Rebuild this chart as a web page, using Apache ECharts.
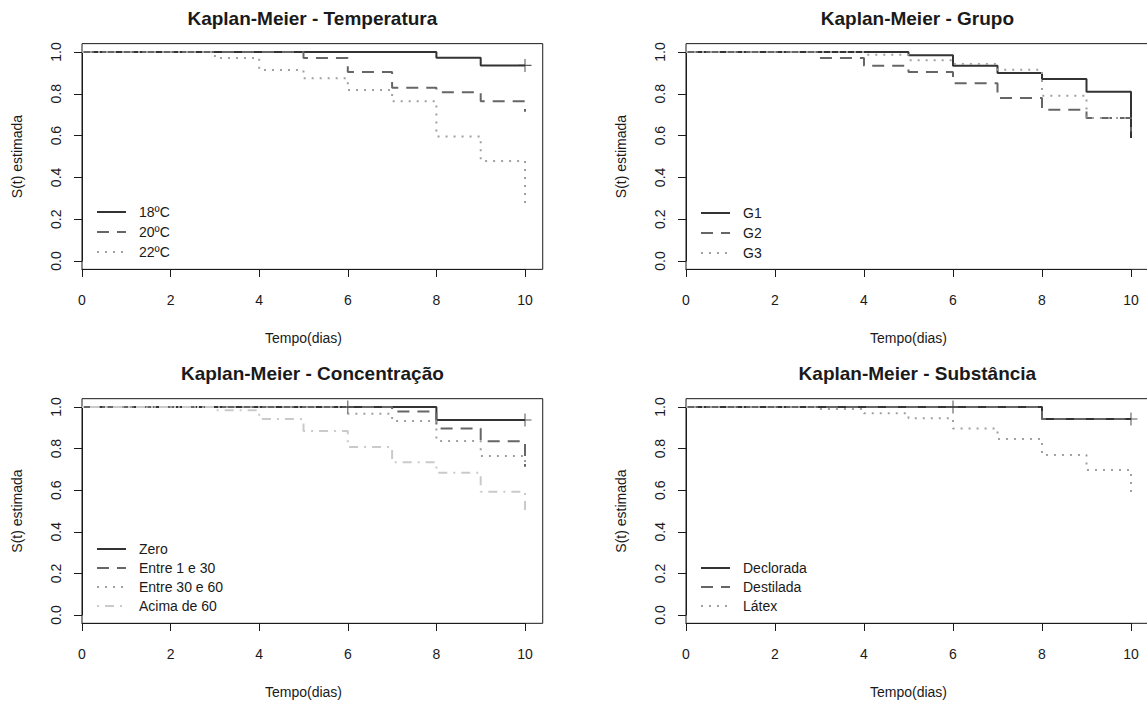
<!DOCTYPE html>
<html>
<head>
<meta charset="utf-8">
<script src="https://cdn.jsdelivr.net/npm/echarts@6/dist/echarts.min.js"></script>
<style>
    html, body { margin: 0; padding: 0; background: #fff; }
    #container_km { width: 1147px; height: 704px; }
</style>
</head>
<body>
<div id="container_km"></div>
<script>
// dias de observação (eixo x)
const days = [0, 1, 2, 3, 4, 5, 6, 7, 8, 9, 10];
const dayTicks = [0, 2, 4, 6, 8, 10];
const survTicks = [0.0, 0.2, 0.4, 0.6, 0.8, 1.0];

// Temperatura
const temp18 = [1, 1, 1, 1, 1, 1, 1, 1, 0.972, 0.936, 0.936];
const temp20 = [1, 1, 1, 1, 1, 0.971, 0.904, 0.829, 0.808, 0.764, 0.714];
const temp22 = [1, 1, 1, 0.971, 0.914, 0.874, 0.818, 0.764, 0.596, 0.479, 0.25];
const censorTemp18 = [[10, 0.936]];

// Grupo
const grupoG1 = [1, 1, 1, 1, 1, 0.984, 0.934, 0.899, 0.871, 0.81, 0.588];
const grupoG2 = [1, 1, 1, 0.971, 0.934, 0.904, 0.85, 0.78, 0.724, 0.684, 0.62];
const grupoG3 = [1, 1, 1, 1, 0.987, 0.96, 0.942, 0.915, 0.791, 0.684, 0.684];

// Concentração
const concZero = [1, 1, 1, 1, 1, 1, 1, 1, 0.9375, 0.9375, 0.9375];
const conc1a30 = [1, 1, 1, 1, 1, 1, 1, 0.978, 0.897, 0.835, 0.713];
const conc30a60 = [1, 1, 1, 1, 1, 1, 0.968, 0.933, 0.837, 0.764, 0.73];
const concAcima60 = [1, 1, 1, 0.984, 0.942, 0.885, 0.808, 0.734, 0.684, 0.593, 0.49];
const censorConcZero = [[6, 1], [10, 0.9375]];

// Substância
const subDeclorada = [1, 1, 1, 1, 1, 1, 1, 1, 0.942, 0.942, 0.942];
const subDestilada = [1, 1, 1, 1, 1, 1, 1, 1, 0.942, 0.942, 0.942];
const subLatex = [1, 1, 1, 0.99, 0.97, 0.946, 0.897, 0.846, 0.769, 0.697, 0.58];
const censorSub = [[6, 1], [10, 0.942]];

const FONT = 'Liberation Sans, Arial, sans-serif';
const INK = '#1a1a1a';
const PLUS = 'path://M5.5,0h1v5.5h5.5v1h-5.5v5.5h-1v-5.5h-5.5v-1h5.5z';

const SOLID = { color: '#333333', type: 'solid' };
const DASHED = { color: '#666666', type: [12, 8] };
const DOTTED = { color: '#a0a0a0', type: [2, 6] };
const DASHDOT = { color: '#cacaca', type: [2, 6, 9, 6] };

const panels = [
    { title: 'Kaplan-Meier - Temperatura', left: 82, top: 52, width: 443, height: 209,
      legendTop: 205, legendGap: 6,
      curves: [['18ºC', temp18, SOLID], ['20ºC', temp20, DASHED], ['22ºC', temp22, DOTTED]],
      censor: [[censorTemp18, SOLID]] },
    { title: 'Kaplan-Meier - Grupo', left: 686, top: 52, width: 445, height: 209,
      legendTop: 206, legendGap: 6,
      curves: [['G1', grupoG1, SOLID], ['G2', grupoG2, DASHED], ['G3', grupoG3, DOTTED]],
      censor: [] },
    { title: 'Kaplan-Meier - Concentração', left: 82, top: 407, width: 443, height: 208,
      legendTop: 542, legendGap: 5,
      curves: [['Zero', concZero, SOLID], ['Entre 1 e 30', conc1a30, DASHED],
               ['Entre 30 e 60', conc30a60, DOTTED], ['Acima de 60', concAcima60, DASHDOT]],
      censor: [[censorConcZero, SOLID]] },
    { title: 'Kaplan-Meier - Substância', left: 686, top: 407, width: 445, height: 208,
      legendTop: 561, legendGap: 5,
      curves: [['Declorada', subDeclorada, SOLID], ['Destilada', subDestilada, DASHED], ['Látex', subLatex, DOTTED]],
      censor: [[censorSub, SOLID]] }
];

function drawKaplanMeier() {
    const myChart = echarts.init(document.getElementById('container_km'), null, {
        renderer: 'svg'
    });

    const grid = [], xAxis = [], yAxis = [], series = [], legend = [], graphic = [];

    panels.forEach(function (p, i) {
        grid.push({
            left: p.left, top: p.top, width: p.width, height: p.height,
            outerBoundsMode: 'none'
        });
        // caixa do gráfico: x de 0 a 10.4 (estilo "S" do R), y de -0.04 a 1.04
        const unitX = p.width / 10;
        const unitY = p.height;
        graphic.push({
            type: 'rect',
            shape: { x: p.left, y: p.top - 0.04 * unitY, width: 10.4 * unitX, height: 1.08 * unitY },
            style: { fill: 'none', stroke: INK, lineWidth: 1 },
            silent: true
        });
        graphic.push({
            type: 'text',
            x: p.left + 5.2 * unitX,
            y: p.top - 34,
            style: {
                text: p.title, font: 'bold 19px ' + FONT, fill: INK,
                textAlign: 'center', textVerticalAlign: 'middle'
            },
            silent: true
        });

        xAxis.push({
            gridIndex: i, type: 'value', min: dayTicks[0], max: dayTicks[dayTicks.length - 1], interval: 2,
            position: 'bottom', offset: 8,
            name: 'Tempo(dias)', nameLocation: 'middle', nameGap: 62,
            nameTextStyle: { color: INK, fontSize: 14, fontFamily: FONT },
            axisLine: { show: true, onZero: false, lineStyle: { color: INK, width: 1 } },
            axisTick: { show: true, length: 8, lineStyle: { color: INK } },
            axisLabel: { color: INK, fontSize: 14, fontFamily: FONT, margin: 24 },
            splitLine: { show: false }
        });
        yAxis.push({
            gridIndex: i, type: 'value', min: survTicks[0], max: survTicks[survTicks.length - 1], interval: 0.2,
            name: 'S(t) estimada', nameLocation: 'middle', nameGap: 58,
            nameTextStyle: { color: INK, fontSize: 14, fontFamily: FONT },
            axisLine: { show: true, lineStyle: { color: INK, width: 1 } },
            axisTick: { show: true, length: 8, lineStyle: { color: INK } },
            axisLabel: {
                color: INK, fontSize: 14, fontFamily: FONT, rotate: 90, margin: 19,
                formatter: function (v) { return v.toFixed(1); }
            },
            splitLine: { show: false }
        });

        p.curves.forEach(function (c) {
            series.push({
                name: c[0], type: 'line', step: 'end',
                xAxisIndex: i, yAxisIndex: i,
                symbol: 'none', color: c[2].color,
                lineStyle: { color: c[2].color, width: 2, type: c[2].type },
                data: days.map(function (d, k) { return [d, c[1][k]]; }),
                silent: true, animation: false
            });
        });
        p.censor.forEach(function (c) {
            series.push({
                type: 'scatter', xAxisIndex: i, yAxisIndex: i,
                symbol: PLUS, symbolSize: 13,
                itemStyle: { color: c[1].color },
                data: c[0], silent: true, animation: false, z: 3
            });
        });

        legend.push({
            orient: 'vertical', left: p.left + 14, top: p.legendTop, padding: 0,
            itemWidth: 29, itemHeight: 14, itemGap: p.legendGap,
            itemStyle: { opacity: 0 },
            data: p.curves.map(function (c) { return c[0]; }),
            textStyle: { color: INK, fontSize: 14, fontFamily: FONT, padding: [0, 0, 0, 8] },
            selectedMode: false
        });
    });

    const option = {
        backgroundColor: '#ffffff',
        animation: false,
        grid: grid,
        xAxis: xAxis,
        yAxis: yAxis,
        legend: legend,
        graphic: graphic,
        series: series
    };
    myChart.setOption(option);
}

drawKaplanMeier();
</script>
</body>
</html>
